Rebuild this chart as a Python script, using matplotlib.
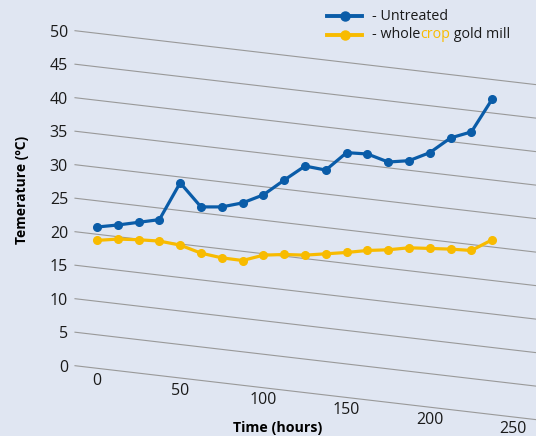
import matplotlib
matplotlib.use("Agg")
import matplotlib.pyplot as plt
import matplotlib.transforms as mtransforms
from matplotlib.lines import Line2D

plt.rcParams["font.family"] = ["Open Sans", "DejaVu Sans"]

# ---- data ----
hours = [0, 12.5, 25, 37.5, 50, 62.5, 75, 87.5, 100, 112.5,
         125, 137.5, 150, 162.5, 175, 187.5, 200, 212.5, 225, 237.5]
untreated = [20.7, 21.0, 21.4, 21.8, 27.3, 23.7, 23.7, 24.3, 25.5, 27.7,
             29.8, 29.2, 31.8, 31.6, 30.4, 30.6, 31.8, 34.0, 34.9, 39.8]
wholecrop = [18.7, 18.9, 18.8, 18.6, 18.0, 16.8, 16.1, 15.7, 16.5, 16.6,
             16.5, 16.7, 16.9, 17.2, 17.3, 17.6, 17.5, 17.4, 17.2, 18.8]
y_ticks = [0, 5, 10, 15, 20, 25, 30, 35, 40, 45, 50]
x_ticks = [0, 50, 100, 150, 200, 250]

BG = "#e0e6f2"
BLUE = "#0a5ca8"
YELLOW = "#f8bb00"
GRID = "#999999"

W, H = 536, 436
fig = plt.figure(figsize=(W / 100, H / 100), dpi=100, facecolor=BG)
ax = fig.add_axes([75 / W, 70.3 / H, 461 / W, 335 / H])
ax.set_facecolor(BG)

xmin, xmax = -13.2, 263.8
ax.set_xlim(xmin, xmax)
ax.set_ylim(0, 50)
for sp in ax.spines.values():
    sp.set_visible(False)

# tilted gridlines
slope = 0.117 * 1.664 / 6.7
for v in y_ticks:
    ax.plot([xmin, xmax], [v, v - slope * (xmax - xmin)], color=GRID,
            lw=0.8, clip_on=False, zorder=1)

ax.plot(hours, untreated, color=BLUE, lw=2.3, marker="o", ms=5.5, zorder=3)
ax.plot(hours, wholecrop, color=YELLOW, lw=2.3, marker="o", ms=5.5, zorder=3)

ax.set_yticks(y_ticks)
ax.tick_params(axis="y", length=0, pad=5, labelsize=11.5, colors="#1a1a1a")
ax.set_xticks([])

# x tick labels follow the tilt
off = mtransforms.offset_copy(ax.transData, fig=fig, y=-12.5, units="dots")
for t in x_ticks:
    ax.text(t, -slope * (t - xmin), str(t), transform=off, ha="center",
            va="center", fontsize=11.5, color="#1a1a1a", clip_on=False)

ax.set_ylabel("Temerature (ºC)", fontsize=10, fontweight="bold", va="center")
ax.yaxis.set_label_coords(-0.115, 0.524)
ax.set_xlabel("Time (hours)", fontsize=10.3, fontweight="bold", va="center")
ax.xaxis.set_label_coords(0.44, -0.186)

# legend drawn by hand so "crop" can be coloured
for yy, col in [(16, BLUE), (35, YELLOW)]:
    fig.add_artist(Line2D([327 / W, 362 / W], [1 - yy / H, 1 - yy / H],
                          color=col, lw=2.8))
    fig.add_artist(Line2D([345 / W], [1 - yy / H], color=col, marker="o",
                          ms=6.5))

fs = 10.3
fig.text(372 / W, 1 - 16 / H, "- Untreated", fontsize=fs, va="center",
         color="#1a1a1a")
fig.canvas.draw()
r = fig.canvas.get_renderer()
x = 372 / W
for piece, col in [("- whole", "#1a1a1a"), ("crop", YELLOW),
                   ("\u00a0gold mill", "#1a1a1a")]:
    t = fig.text(x, 1 - 35 / H, piece, fontsize=fs, va="center", color=col)
    bb = t.get_window_extent(renderer=r)
    x += bb.width / W

fig.savefig("out.png", dpi=100, facecolor=BG)
